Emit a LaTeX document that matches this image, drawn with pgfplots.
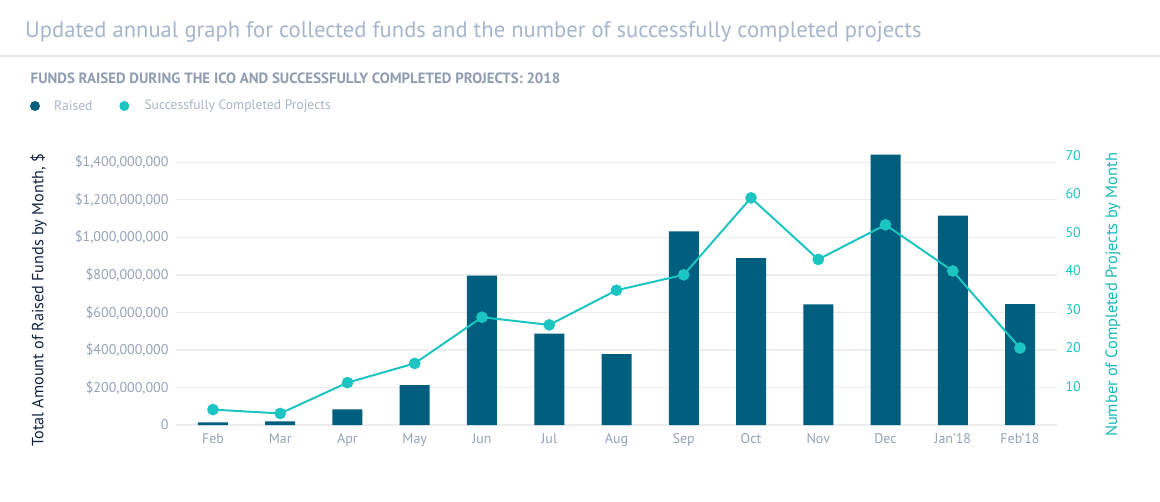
\documentclass[border=0pt]{standalone}
\usepackage{pgfplots}
\pgfplotsset{compat=1.18}
\usepackage{fontspec}
\setmainfont{PT Sans}
\definecolor{barc}{HTML}{005E7E}
\definecolor{linec}{HTML}{1CC5C1}
\definecolor{titlec}{HTML}{A7B5CC}
\definecolor{subc}{HTML}{8E9BB0}
\definecolor{tickc}{HTML}{95A2B8}
\definecolor{legc}{HTML}{A9B4C6}
\definecolor{navy}{HTML}{132340}
\definecolor{rlab}{HTML}{1AB9B9}
\definecolor{gridc}{HTML}{EDEDED}
\definecolor{rulec}{HTML}{E3E3E3}
\pgfplotstableread{
x raised
0 14000000
1 19000000
2 83000000
3 213000000
4 796000000
5 487000000
6 378000000
7 1032000000
8 890000000
9 643000000
10 1441000000
11 1116000000
12 645000000
}\raisedtable
\pgfplotstableread{
x projects
0 4
1 3
2 11
3 16
4 28
5 26
6 35
7 39
8 59
9 43
10 52
11 40
12 20
}\projtable
\begin{document}
\begin{tikzpicture}[x=1pt,y=1pt]
\useasboundingbox (0pt,0pt) rectangle (1160pt,501pt);
\node[anchor=base west, inner sep=0, text=titlec, font=\fontsize{22.6}{22.6}\selectfont] at (25pt,463pt) {Updated annual graph for collected funds and the number of successfully completed projects};
\draw[rulec, line width=1.2pt] (0pt,445pt) -- (1160pt,445pt);
\node[anchor=west, inner sep=0, text=subc, font=\bfseries\fontsize{14.9}{14.9}\selectfont] at (30.5pt,423pt) {FUNDS RAISED DURING THE ICO AND SUCCESSFULLY COMPLETED PROJECTS: 2018};
\fill[barc] (35pt,395pt) circle (5pt);
\node[anchor=west, inner sep=0, text=legc, font=\fontsize{13.6}{13.6}\selectfont] at (54pt,395pt) {Raised};
\fill[linec] (124.3pt,395pt) circle (5pt);
\node[anchor=west, inner sep=0, text=legc, font=\fontsize{13.6}{13.6}\selectfont] at (144.3pt,395pt) {Successfully Completed Projects};
\begin{axis}[
  at={(176pt,76pt)}, anchor=south west,
  scale only axis, width=881pt, height=272pt,
  xmin=-0.55, xmax=12.55, ymin=0, ymax=1.45e9,
  axis line style={draw=none}, tick style={draw=none},
  xtick={0,...,12},
  xticklabels={Feb,Mar,Apr,May,Jun,Jul,Aug,Sep,Oct,Nov,Dec,Jan'18,Feb'18},
  ytick={0,200000000,400000000,600000000,800000000,1000000000,1200000000,1400000000},
  yticklabels={0,{\$200,000,000},{\$400,000,000},{\$600,000,000},{\$800,000,000},{\$1,000,000,000},{\$1,200,000,000},{\$1,400,000,000}},
  scaled y ticks=false,
  ymajorgrids, grid style={gridc, line width=1.2pt},
  ticklabel style={text=tickc, font=\fontsize{14}{14}\selectfont},
  yticklabel style={xshift=-4pt},
  xticklabel style={yshift=-5pt},
  ylabel={Total Amount of Raised Funds by Month, \$},
  ylabel style={at={(rel axis cs:-0.156,0.4596)}, anchor=center, text=navy, font=\fontsize{16.2}{16.2}\selectfont},
]
\addplot[ybar, bar width=30pt, fill=barc, draw=none] table[x=x, y=raised] {\raisedtable};
\end{axis}
\begin{axis}[
  at={(176pt,76pt)}, anchor=south west,
  scale only axis, width=881pt, height=272pt,
  xmin=-0.55, xmax=12.55, ymin=0, ymax=70.65,
  axis y line*=right, axis x line=none,
  axis line style={draw=none}, tick style={draw=none},
  ytick={10,20,30,40,50,60,70},
  yticklabels={10,20,30,40,50,60,70},
  yticklabel style={text=linec, font=\fontsize{14}{14}\selectfont, xshift=5pt},
  ylabel={Number of Completed Projects by Month},
  ylabel style={at={(rel axis cs:1.0636,0.478)}, anchor=center, rotate=0, text=rlab, font=\fontsize{16.4}{16.4}\selectfont},
]
\addplot[color=linec, line width=2pt, mark=*, mark size=4.8pt, mark options={fill=linec, draw=linec}] table[x=x, y=projects] {\projtable};
\end{axis}
\end{tikzpicture}
\end{document}
